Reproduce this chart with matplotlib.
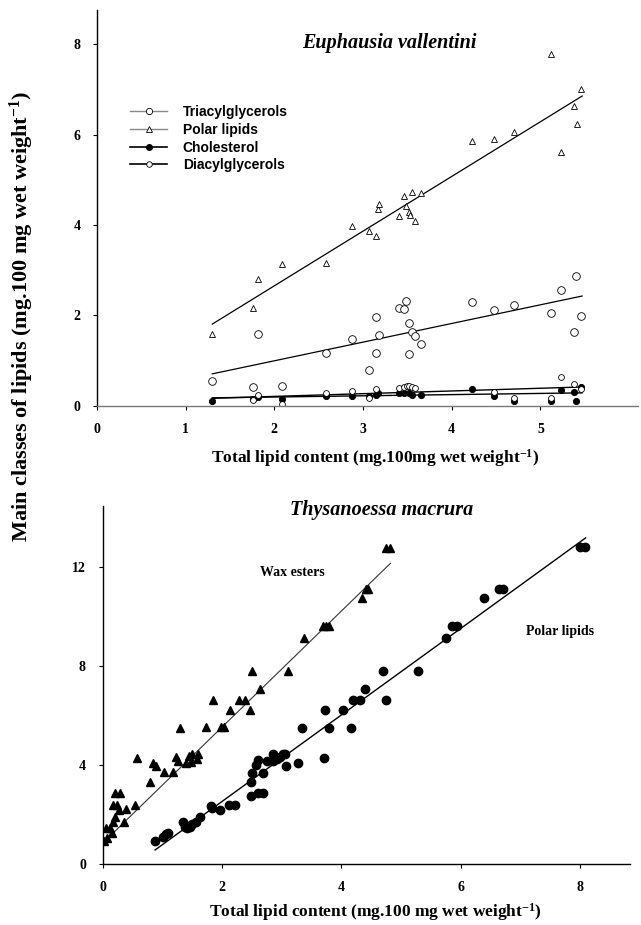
import numpy as np
import matplotlib
matplotlib.use('Agg')
import matplotlib.pyplot as plt
from matplotlib.lines import Line2D

plt.rcParams['font.family'] = 'Liberation Serif'
plt.rcParams['font.weight'] = 'bold'
plt.rcParams['mathtext.fontset'] = 'custom'
plt.rcParams['mathtext.rm'] = 'Liberation Serif:bold'
plt.rcParams['mathtext.it'] = 'Liberation Serif:bold'
plt.rcParams['mathtext.bf'] = 'Liberation Serif:bold'

# ---- Euphausia vallentini (top panel) ----
pl_x = [1.30, 1.76, 1.82, 2.09, 2.58, 2.88, 3.07, 3.15, 3.17, 3.18, 3.40, 3.46, 3.48,
        3.52, 3.53, 3.55, 3.59, 3.65, 4.23, 4.48, 4.70, 5.12, 5.23, 5.38, 5.41, 5.46]
pl_y = [1.58, 2.16, 2.81, 3.13, 3.17, 3.98, 3.87, 3.76, 4.35, 4.46, 4.20, 4.65, 4.43,
        4.29, 4.21, 4.73, 4.08, 4.70, 5.86, 5.89, 6.06, 7.77, 5.62, 6.62, 6.23, 7.00]

tag_x = [1.30, 1.76, 1.82, 2.09, 2.58, 2.88, 3.07, 3.15, 3.15, 3.18, 3.40, 3.46, 3.48,
         3.52, 3.52, 3.55, 3.59, 3.65, 4.23, 4.48, 4.70, 5.12, 5.23, 5.38, 5.40, 5.46]
tag_y = [0.56, 0.41, 1.58, 0.45, 1.16, 1.47, 0.79, 1.18, 1.97, 1.57, 2.16, 2.15, 2.32,
         1.84, 1.14, 1.63, 1.55, 1.36, 2.30, 2.13, 2.23, 2.06, 2.56, 1.64, 2.88, 1.99]

dag_x = [1.76, 1.82, 2.09, 2.58, 2.88, 3.07, 3.15, 3.40, 3.46, 3.49, 3.52, 3.55, 3.59,
         4.48, 4.70, 5.12, 5.23, 5.38, 5.46]
dag_y = [0.13, 0.24, 0.04, 0.28, 0.34, 0.17, 0.37, 0.40, 0.43, 0.44, 0.44, 0.43, 0.39,
         0.32, 0.17, 0.17, 0.63, 0.48, 0.37]

chol_x = [1.30, 1.76, 1.82, 2.09, 2.58, 2.88, 3.07, 3.15, 3.17, 3.40, 3.46, 3.52, 3.55,
          3.65, 4.23, 4.48, 4.70, 5.12, 5.23, 5.38, 5.40, 5.46]
chol_y = [0.11, 0.15, 0.19, 0.15, 0.22, 0.22, 0.21, 0.24, 0.28, 0.28, 0.28, 0.28, 0.24,
          0.24, 0.37, 0.22, 0.11, 0.11, 0.35, 0.30, 0.11, 0.43]

# regression lines (x start/end, y start/end)
fit_x_top = [1.30, 5.47]
pl_fit = [1.81, 6.85]
tag_fit = [0.71, 2.43]
chol_fit = [0.17, 0.42]
dag_fit = [0.18, 0.29]

# ---- Thysanoessa macrura (bottom panel) ----
we_x = [0.02, 0.08, 0.06, 0.13, 0.15, 0.18, 0.20, 0.18, 0.25, 0.27, 0.21, 0.29, 0.36,
        0.40, 0.54, 0.57, 0.79, 0.84, 0.89, 1.03, 1.18, 1.23, 1.30, 1.26, 1.40, 1.44,
        1.50, 1.48, 1.59, 1.58, 1.73, 1.85, 1.99, 2.03, 2.14, 2.28, 2.39, 2.47, 2.51,
        2.64, 3.11, 3.37, 3.69, 3.75, 3.80, 4.34, 4.41, 4.45, 4.75, 4.82]
we_y = [0.94, 1.08, 1.45, 1.45, 1.25, 1.72, 1.93, 2.40, 2.40, 2.20, 2.90, 2.87, 1.72,
        2.22, 2.40, 4.28, 3.34, 4.10, 3.97, 3.72, 3.72, 4.32, 5.50, 4.19, 4.08, 4.38,
        4.46, 4.15, 4.46, 4.24, 5.56, 6.64, 5.55, 5.55, 6.24, 6.64, 6.64, 6.24, 7.82,
        7.08, 7.82, 9.13, 9.64, 9.64, 9.64, 10.75, 11.11, 11.11, 12.80, 12.80]

pol_x = [0.88, 1.02, 1.06, 1.10, 1.35, 1.38, 1.41, 1.44, 1.47, 1.50, 1.56, 1.64, 1.82,
         1.83, 1.97, 2.11, 2.21, 2.49, 2.49, 2.51, 2.57, 2.61, 2.69, 2.69, 2.61, 2.75,
         2.86, 2.86, 2.92, 2.97, 3.02, 3.06, 3.08, 3.28, 3.34, 3.70, 3.72, 3.79, 4.03,
         4.16, 4.20, 4.31, 4.40, 4.69, 4.75, 5.29, 5.75, 5.85, 5.93, 6.38, 6.64, 6.70,
         7.99, 8.08]
pol_y = [0.94, 1.09, 1.23, 1.25, 1.72, 1.52, 1.45, 1.55, 1.52, 1.62, 1.72, 1.93, 2.37,
         2.26, 2.20, 2.40, 2.40, 2.75, 3.34, 3.70, 4.01, 2.90, 2.90, 3.70, 4.22, 4.18,
         4.18, 4.46, 4.27, 4.35, 4.46, 4.46, 3.99, 4.11, 5.50, 4.28, 6.24, 5.51, 6.24,
         5.51, 6.64, 6.64, 7.08, 7.82, 6.64, 7.82, 9.13, 9.63, 9.63, 10.75, 11.11, 11.11,
         12.81, 12.81]

we_fit_x = [0.00, 4.82]
we_fit_y = [0.85, 12.16]
pol_fit_x = [0.88, 8.09]
pol_fit_y = [0.58, 13.19]

xlabel_top = 'Total lipid content (mg.100mg wet weight$^{-1}$)'
xlabel_bot = 'Total lipid content (mg.100 mg wet weight$^{-1}$)'
ylabel = 'Main classes of lipids (mg.100 mg wet weight$^{-1}$)'

fig = plt.figure(figsize=(6.41, 9.25), dpi=100)
ax1 = fig.add_axes([0.1513, 0.5611, 0.844, 0.428])
ax2 = fig.add_axes([0.160, 0.0656, 0.8226, 0.3874])

# top panel
ax1.plot(fit_x_top, pl_fit, color='black', lw=0.9)
ax1.plot(fit_x_top, tag_fit, color='black', lw=0.9)
ax1.plot(fit_x_top, chol_fit, color='black', lw=1.0)
ax1.plot(fit_x_top, dag_fit, color='black', lw=1.0)
ax1.plot(pl_x, pl_y, ls='none', marker='^', ms=5, mfc='white', mec='black', mew=0.6)
ax1.plot(tag_x, tag_y, ls='none', marker='o', ms=5.5, mfc='white', mec='black', mew=0.6)
ax1.plot(chol_x, chol_y, ls='none', marker='o', ms=4.5, mfc='black', mec='black', mew=0.6)
ax1.plot(dag_x, dag_y, ls='none', marker='o', ms=4.2, mfc='white', mec='black', mew=0.6)

handles = [
    Line2D([], [], color='#888888', lw=1, marker='o', ms=4.5, mfc='white', mec='black', mew=0.6),
    Line2D([], [], color='#888888', lw=1, marker='^', ms=4, mfc='white', mec='black', mew=0.6),
    Line2D([], [], color='black', lw=1.2, marker='o', ms=4, mfc='black', mec='black'),
    Line2D([], [], color='black', lw=1.2, marker='o', ms=4, mfc='white', mec='black', mew=0.6),
]
ax1.legend(handles, ['Triacylglycerols', 'Polar lipids', 'Cholesterol', 'Diacylglycerols'],
           loc='upper left', bbox_to_anchor=(0.061, 0.76), frameon=False, numpoints=1,
           handlelength=2.7, handletextpad=1.1, labelspacing=0.27, borderpad=0,
           borderaxespad=0, prop={'family': 'Liberation Sans', 'weight': 'bold', 'size': 10})

ax1.set_xlim(0, 6.1)
ax1.set_ylim(0, 8.75)
ax1.set_xticks([0, 1, 2, 3, 4, 5])
ax1.set_yticks([0, 2, 4, 6, 8])
ax1.text(0.54, 0.917, 'Euphausia vallentini', transform=ax1.transAxes, ha='center',
         va='center', fontsize=14.5, style='italic', weight='bold')

# bottom panel
ax2.plot(we_fit_x, we_fit_y, color='#333333', lw=0.8)
ax2.plot(pol_fit_x, pol_fit_y, color='black', lw=1.0)
ax2.plot(we_x, we_y, ls='none', marker='^', ms=6, color='black')
ax2.plot(pol_x, pol_y, ls='none', marker='o', ms=6, color='black')
ax2.text(2.64, 11.78, 'Wax esters', ha='left', va='center', fontsize=10)
ax2.text(7.09, 9.40, 'Polar lipids', ha='left', va='center', fontsize=10)
ax2.text(0.53, 0.99, 'Thysanoessa macrura', transform=ax2.transAxes, ha='center',
         va='center', fontsize=14.5, style='italic', weight='bold')
ax2.set_xlim(0, 8.83)
ax2.set_ylim(0, 14.48)
ax2.set_xticks([0, 2, 4, 6, 8])
ax2.set_yticks([0, 4, 8, 12])

for ax in (ax1, ax2):
    ax.spines['top'].set_visible(False)
    ax.spines['right'].set_visible(False)
    ax.spines['left'].set_linewidth(1.0)
    ax.spines['bottom'].set_linewidth(1.0)
    ax.tick_params(direction='out', length=3, width=0.8, labelsize=10, pad=9)
    for lab in ax.get_xticklabels() + ax.get_yticklabels():
        lab.set_fontweight('bold')
ax1.spines['bottom'].set_color('#777777')

fig.text(0.585, 0.505, xlabel_top, ha='center', va='center', fontsize=12.5)
fig.text(0.585, 0.014, xlabel_bot, ha='center', va='center', fontsize=12.5)
fig.text(0.034, 0.658, ylabel, ha='center', va='center', rotation=90, fontsize=16)

fig.savefig('out.png', dpi=100)
